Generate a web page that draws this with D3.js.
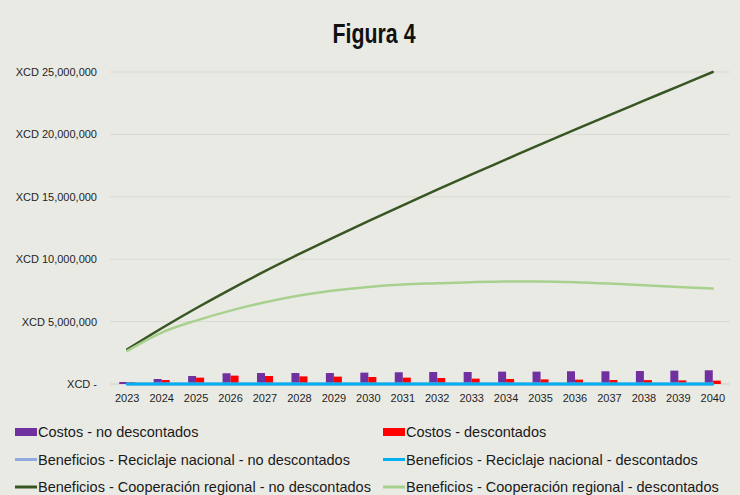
<!DOCTYPE html>
<html>
<head>
<meta charset="utf-8">
<script src="https://cdn.jsdelivr.net/npm/d3@7"></script>
<style>
  html, body { margin: 0; padding: 0; background: #eaeae5; }
  svg { display: block; font-family: "Liberation Sans", Arial, sans-serif; }
</style>
</head>
<body>
<svg id="chart"></svg>
<script>
"use strict";

var width = 740;
var height = 495;

var years = ["2023", "2024", "2025", "2026", "2027", "2028", "2029", "2030", "2031",
  "2032", "2033", "2034", "2035", "2036", "2037", "2038", "2039", "2040"];

// costs (bars)
var costosNoDesc = [160000, 400000, 640000, 860000, 880000, 880000, 880000, 910000, 940000,
  960000, 960000, 990000, 990000, 1020000, 1020000, 1040000, 1070000, 1100000];
var costosDesc = [150000, 320000, 510000, 670000, 640000, 610000, 590000, 560000, 510000,
  480000, 430000, 400000, 370000, 350000, 320000, 310000, 290000, 270000];

// benefits (lines)
var recNacNoDesc = [0, 0, 0, 0, 0, 0, 0, 0, 0, 0, 0, 0, 0, 0, 0, 0, 0, 0];
var recNacDesc = [0, 0, 0, 0, 0, 0, 0, 0, 0, 0, 0, 0, 0, 0, 0, 0, 0, 0];
var coopRegNoDesc = [2780000, 4470000, 6070000, 7590000, 9040000, 10420000, 11750000, 13050000, 14320000,
  15570000, 16800000, 18000000, 19200000, 20380000, 21550000, 22700000, 23850000, 25000000];
var coopRegDesc = [2650000, 4120000, 5080000, 5880000, 6550000, 7090000, 7490000, 7780000, 7970000,
  8070000, 8160000, 8210000, 8210000, 8160000, 8050000, 7910000, 7780000, 7650000];

var yTicks = [0, 5000000, 10000000, 15000000, 20000000, 25000000];

var lineSeries = [
  { name: "Beneficios - Reciclaje nacional - no descontados", values: recNacNoDesc, color: "#8faadc", w: 3 },
  { name: "Beneficios - Reciclaje nacional - descontados", values: recNacDesc, color: "#00b0f0", w: 3 },
  { name: "Beneficios - Cooperación regional - no descontados", values: coopRegNoDesc, color: "#375623", w: 2.5 },
  { name: "Beneficios - Cooperación regional - descontados", values: coopRegDesc, color: "#a9d18e", w: 2.5 }
];

var svg = d3.select("#chart").attr("width", width).attr("height", height);

// condensed title (no narrow font installed, so squeeze it)
svg.append("text")
  .attr("x", 374).attr("y", 43)
  .attr("text-anchor", "middle")
  .attr("textLength", 83)
  .attr("lengthAdjust", "spacingAndGlyphs")
  .style("font-weight", "bold")
  .style("font-size", "27px")
  .attr("fill", "#111")
  .text("Figura 4");

var x = d3.scaleBand().domain(years).range([110, 730]).paddingInner(0).paddingOuter(0);
var xInner = d3.scaleBand().domain(["nd", "d"]).range([0, x.bandwidth()]).paddingInner(0).paddingOuter(1.15);
var y = d3.scaleLinear().domain([0, 25000000]).range([384, 72]);

var fmt = d3.format(",");

// gridlines
svg.append("g").selectAll("line").data(yTicks.filter(function (d) { return d > 0; })).enter().append("line")
  .attr("x1", 110).attr("x2", 730)
  .attr("y1", function (d) { return y(d); }).attr("y2", function (d) { return y(d); })
  .attr("stroke", "#d9d9d4").attr("stroke-width", 1);

// baseline
svg.append("line").attr("x1", 110).attr("x2", 730).attr("y1", y(0)).attr("y2", y(0))
  .attr("stroke", "#d0d0cb").attr("stroke-width", 1);

// y labels
svg.append("g").selectAll("text").data(yTicks).enter().append("text")
  .attr("x", 97).attr("y", function (d) { return y(d) + 4; })
  .attr("text-anchor", "end")
  .style("font-size", "11px").attr("fill", "#1f1f1f")
  .text(function (d) { return d === 0 ? "XCD -" : "XCD " + fmt(d); });

// x labels
svg.append("g").selectAll("text").data(years).enter().append("text")
  .attr("x", function (d) { return x(d) + x.bandwidth() / 2; }).attr("y", 402)
  .attr("text-anchor", "middle")
  .style("font-size", "11px").attr("fill", "#1f1f1f")
  .text(function (d) { return d; });

// bars
var barData = years.map(function (yr, i) {
  return [{ yr: yr, k: "nd", v: costosNoDesc[i] }, { yr: yr, k: "d", v: costosDesc[i] }];
});
svg.append("g").selectAll("g").data(barData).enter().append("g")
  .selectAll("rect").data(function (d) { return d; }).enter().append("rect")
  .attr("x", function (d) { return x(d.yr) + xInner(d.k); })
  .attr("width", xInner.bandwidth())
  .attr("y", function (d) { return y(d.v); })
  .attr("height", function (d) { return y(0) - y(d.v); })
  .attr("fill", function (d) { return d.k === "nd" ? "#7030a0" : "#ff0000"; });

// lines
var line = d3.line()
  .x(function (d, i) { return x(years[i]) + x.bandwidth() / 2; })
  .y(function (d) { return y(d); })
  .curve(d3.curveMonotoneX);

svg.append("g").selectAll("path").data(lineSeries).enter().append("path")
  .attr("d", function (s) { return line(s.values); })
  .attr("fill", "none")
  .attr("stroke", function (s) { return s.color; })
  .attr("stroke-width", function (s) { return s.w; })
  .attr("stroke-linecap", "round");

// legend
var legendItems = [
  { name: "Costos - no descontados", color: "#7030a0", type: "bar" },
  { name: "Costos - descontados", color: "#ff0000", type: "bar" }
].concat(lineSeries.map(function (s) { return { name: s.name, color: s.color, type: "line" }; }));

var legend = svg.append("g").selectAll("g").data(legendItems).enter().append("g")
  .attr("transform", function (d, i) {
    return "translate(" + (i % 2 === 0 ? 15 : 383) + "," + (432 + Math.floor(i / 2) * 27.5) + ")";
  });

legend.each(function (d) {
  var g = d3.select(this);
  if (d.type === "bar") {
    g.append("rect").attr("x", 0).attr("y", -4).attr("width", 22).attr("height", 8).attr("fill", d.color);
  } else {
    g.append("line").attr("x1", 0).attr("x2", 22).attr("y1", 0).attr("y2", 0)
      .attr("stroke", d.color).attr("stroke-width", 3);
  }
  g.append("text").attr("x", 23).attr("y", 5)
    .style("font-size", "14.5px").attr("fill", "#1a1a1a")
    .text(d.name);
});
</script>
</body>
</html>
